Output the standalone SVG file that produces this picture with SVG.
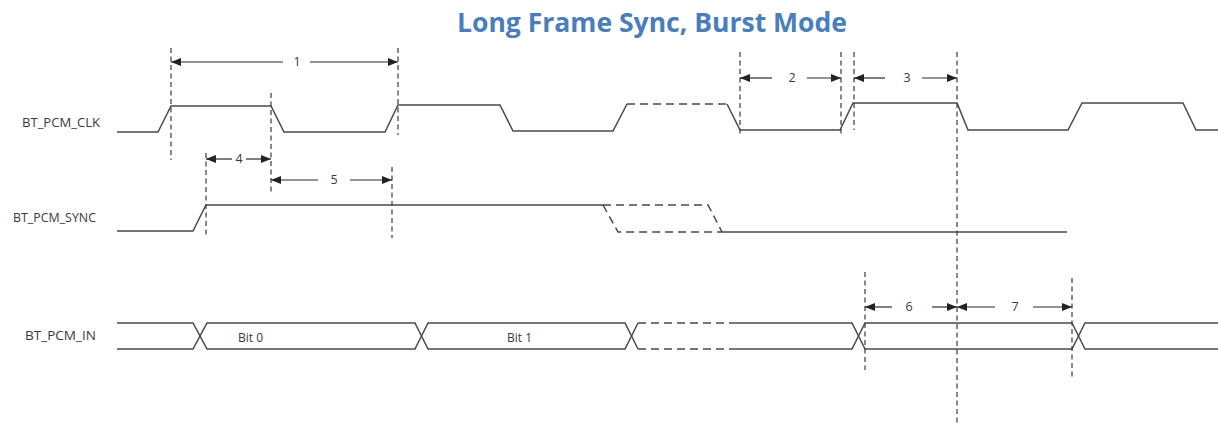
<svg xmlns="http://www.w3.org/2000/svg" width="1218" height="424" viewBox="0 0 1218 424">
<style>
.title{font-family:"Open Sans","Noto Sans",sans-serif;font-weight:bold;font-size:26px;fill:#4a7dbb}
.lbl{font-family:"Open Sans","Noto Sans",sans-serif;font-size:12px;fill:#3a3a3a}
.num{font-family:"Open Sans","Noto Sans",sans-serif;font-size:12.5px;fill:#3a3a3a;text-anchor:middle}
.wave{fill:none;stroke:#4a4a4a;stroke-width:1.5;stroke-linejoin:miter}
.dwave{fill:none;stroke:#4a4a4a;stroke-width:1.5;stroke-dasharray:8 5}
.guide{fill:none;stroke:#3a3a3a;stroke-width:1.2;stroke-dasharray:5 3.5}
.dim{fill:none;stroke:#2a2a2a;stroke-width:1.2;marker-end:url(#ah)}
</style>
<defs>
<marker id="ah" markerUnits="userSpaceOnUse" markerWidth="10" markerHeight="8" refX="10" refY="4" orient="auto">
<path d="M0,0 L10,4 L0,8 Z" fill="#222"/>
</marker>
</defs>
<rect width="1218" height="424" fill="#fff"/>
<text class="title" x="457" y="32" textLength="390" lengthAdjust="spacingAndGlyphs">Long Frame Sync, Burst Mode</text>

<g id="label-clk"><text class="lbl" x="22" y="127" textLength="78" lengthAdjust="spacingAndGlyphs">BT_PCM_CLK</text></g>
<g id="label-sync"><text class="lbl" x="13" y="222" textLength="83" lengthAdjust="spacingAndGlyphs">BT_PCM_SYNC</text></g>
<g id="label-in"><text class="lbl" x="25" y="340" textLength="71" lengthAdjust="spacingAndGlyphs">BT_PCM_IN</text></g>

<g id="clk">
<path class="wave" d="M117,132 L158,132 L171,106 L271,106 L284,132 L385,132 L398,105 L500,105 L513,131 L613,131 L627,104"/>
<path class="dwave" d="M627,104 L727,104"/>
<path class="wave" d="M727,104 L740,130 L840,130 L853,103 L957,103 L968,130 L1068,130 L1082,103 L1183,103 L1196,130 L1218,130"/>
</g>

<g id="sync">
<path class="wave" d="M117,231 L193,231 L206,205 L603,205"/>
<path class="dwave" d="M603,205 L708,205 L722,232"/>
<path class="dwave" d="M603,205 L618,232 L722,232"/>
<path class="wave" d="M722,232 L1067,232"/>
</g>

<g id="pcm-in">
<path class="wave" d="M117,323 L193,323 L207,349 L415,349 L428,323 L625,323 L638,349"/>
<path class="wave" d="M117,349 L193,349 L207,323 L415,323 L428,349 L625,349 L638,323"/>
<path class="dwave" d="M638,323 L733,323 M638,349 L733,349"/>
<path class="wave" d="M733,323 L852,323 L865,349 L1072,349 L1085,323 L1218,323"/>
<path class="wave" d="M733,349 L852,349 L865,323 L1072,323 L1085,349 L1218,349"/>
<text class="lbl" x="238" y="342" font-size="11">Bit 0</text>
<text class="lbl" x="507" y="342" font-size="11">Bit 1</text>
</g>

<g id="guides">
<path class="guide" d="M171,48 V160"/>
<path class="guide" d="M271,93 V193"/>
<path class="guide" d="M398,48 V135"/>
<path class="guide" d="M206,153 V238"/>
<path class="guide" d="M392,167 V238"/>
<path class="guide" d="M740,52 V137"/>
<path class="guide" d="M841,52 V137"/>
<path class="guide" d="M854,52 V130"/>
<path class="guide" d="M957,52 V424"/>
<path class="guide" d="M865,272 V370"/>
<path class="guide" d="M1072,278 V377"/>
</g>

<g id="connectors">
<path class="dim" d="M283,62 H171"/><path class="dim" d="M310,62 H398"/>
<text class="num" x="297" y="66">1</text>
<path class="dim" d="M772,78 H740"/><path class="dim" d="M807,78 H841"/>
<text class="num" x="792" y="82">2</text>
<path class="dim" d="M885,78 H854"/><path class="dim" d="M922,78 H957"/>
<text class="num" x="907" y="82">3</text>
<path class="dim" d="M232,159 H206"/><path class="dim" d="M246,159 H271"/>
<text class="num" x="239" y="163">4</text>
<path class="dim" d="M318,180 H271"/><path class="dim" d="M350,180 H392"/>
<text class="num" x="334" y="184">5</text>
<path class="dim" d="M892,307 H865"/><path class="dim" d="M932,307 H957"/>
<text class="num" x="909" y="311">6</text>
<path class="dim" d="M995,307 H957"/><path class="dim" d="M1033,307 H1072"/>
<text class="num" x="1015" y="311">7</text>
</g>
</svg>
